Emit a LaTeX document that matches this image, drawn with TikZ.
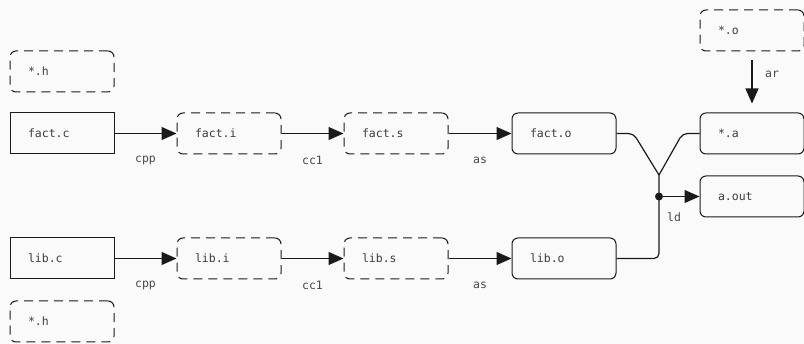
\documentclass[tikz,border=0pt]{standalone}
\usepackage{fontspec}
\setmonofont{DejaVu Sans Mono}
\usetikzlibrary{arrows.meta}
\definecolor{bgcol}{HTML}{FAFAFA}
\definecolor{ink}{HTML}{1A1A1A}
\tikzset{
	file/.style={draw=ink, line width=1pt, text width=68pt, inner xsep=18pt, inner ysep=0pt,
		minimum height=41pt, align=left, font=\ttfamily\fontsize{11.5}{13}\selectfont, text=ink!85},
	srcfile/.style={file},
	tmpfile/.style={file, rounded corners=6pt, dash pattern=on 9pt off 6pt},
	outfile/.style={file, rounded corners=6pt},
	tool/.style={font=\ttfamily\fontsize{11.5}{13}\selectfont, text=ink!80},
	flow/.style={draw=ink, line width=1.2pt, -{Triangle[length=15pt,width=13pt]}},
	wire/.style={draw=ink, line width=1.2pt, rounded corners=5pt}
}
\begin{document}
\begin{tikzpicture}[x=1pt,y=-1pt]
	\fill[bgcol] (0,0) rectangle (804,344);
	\useasboundingbox (0,0) rectangle (804,344);
	% headers
	\node[tmpfile] (hdrtop) at (62,71.5) {*.h};
	\node[tmpfile] (hdrbot) at (62,321.5) {*.h};
	% fact row
	\node[srcfile] (factc) at (62,133.5) {fact.c};
	\node[tmpfile] (facti) at (229,133.5) {fact.i};
	\node[tmpfile] (facts) at (396,133.5) {fact.s};
	\node[outfile] (facto) at (564,133.5) {fact.o};
	% lib row
	\node[srcfile] (libc) at (62,258.5) {lib.c};
	\node[tmpfile] (libi) at (229,258.5) {lib.i};
	\node[tmpfile] (libs) at (396,258.5) {lib.s};
	\node[outfile] (libo) at (564,258.5) {lib.o};
	% archive and output
	\node[tmpfile] (objs) at (752,30.5) {*.o};
	\node[outfile] (arch) at (752,133.5) {*.a};
	\node[outfile] (aout) at (752,196.5) {a.out};
	\foreach \row in {fact,lib} {
		\draw[flow] (\row c) -- (\row i) node[tool, midway, yshift=-27pt] {cpp};
		\draw[flow] (\row i) -- (\row s) node[tool, midway, yshift=-27pt] {cc1};
		\draw[flow] (\row s) -- (\row o) node[tool, midway, yshift=-27pt] {as};
	}
	\draw[flow] ([yshift=-9pt]objs.south) -- ([yshift=9pt]arch.north) node[tool, midway, xshift=20pt, yshift=8pt] {ar};
	% link step
	\coordinate (join) at (659,175);
	\coordinate (tap) at (659,196.5);
	\draw[wire] (facto.east) -- ++(17,0) -- (join);
	\draw[wire] (arch.west) -- ++(-17,0) -- (join);
	\draw[wire] (join) -- (join |- libo.east) -- (libo.east);
	\fill[ink] (tap) circle (4pt);
	\draw[flow] (tap) -- (aout) node[tool, pos=0, xshift=15pt, yshift=-21pt] {ld};
\end{tikzpicture}
\end{document}
